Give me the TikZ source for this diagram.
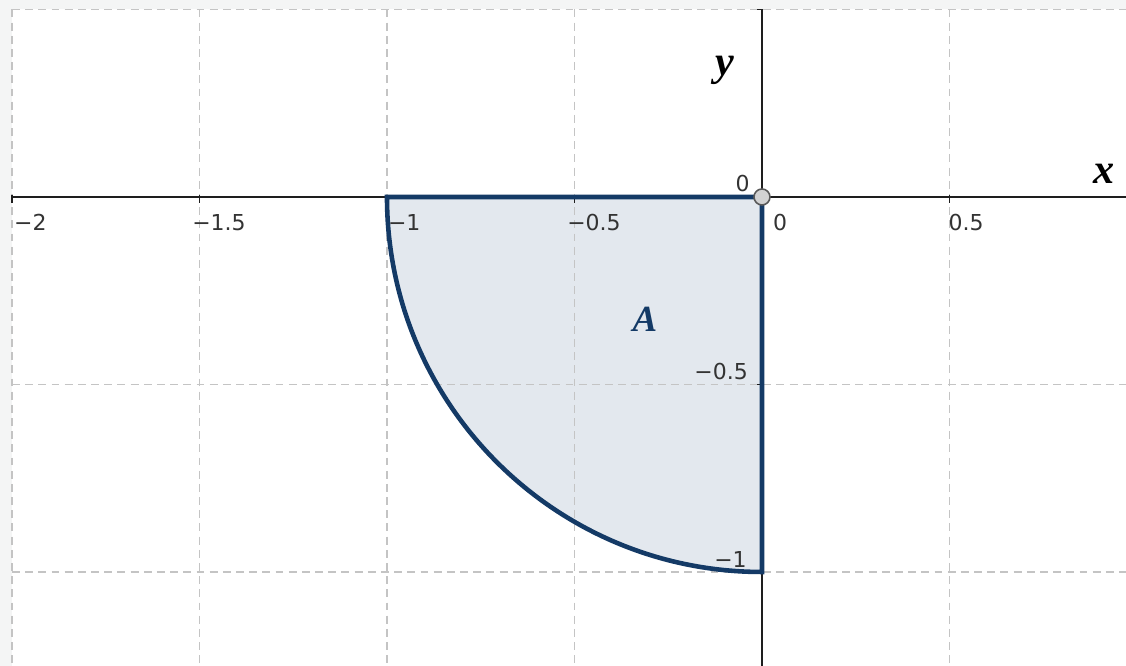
\documentclass[tikz,border=0pt]{standalone}
\usepackage{fontspec}
\setmainfont{Liberation Serif}
\setsansfont{DejaVu Sans}
\usepackage{tikz}
\definecolor{framegray}{HTML}{F4F5F5}
\definecolor{gridgray}{HTML}{C4C4C4}
\definecolor{regionfill}{HTML}{E3E8EE}
\definecolor{regionblue}{HTML}{143A66}
\definecolor{pointgray}{HTML}{D2D2D2}
\definecolor{axisblack}{HTML}{1E1E1E}
\tikzset{
  gridline/.style={draw=gridgray, line width=0.7pt, dash pattern=on 4.5pt off 3pt},
  axis/.style={draw=axisblack, line width=1.1pt},
  tickmark/.style={draw=axisblack, line width=1.1pt},
  region/.style={draw=regionblue, line width=2.6pt, line join=miter},
  originpt/.style={circle, draw=black!65, fill=pointgray, line width=0.9pt,
    minimum size=0.32cm, inner sep=0pt},
  ticklabel/.style={font=\sffamily\fontsize{12.5}{14}\selectfont, text=black!80, inner sep=0pt},
  axislabel/.style={font=\bfseries\itshape\fontsize{24}{28}\selectfont, inner sep=0pt},
  regionlabel/.style={font=\bfseries\itshape\fontsize{21}{24}\selectfont, text=regionblue, inner sep=0pt}
}

\begin{document}
\begin{tikzpicture}[x=7.5cm,y=7.5cm]
  \path[use as bounding box, fill=framegray] (-2.032,-1.2507) rectangle (0.9707,0.5253);
  \fill[white] (-2,-1.2507) rectangle (0.9707,0.5);

  % quarter disc
  \fill[regionfill] (0,0) -- (-1,0) arc[start angle=180, end angle=270, radius=1] -- cycle;

  % grid
  \draw[gridline] (-2,0.5) -- (0.9707,0.5);
  \draw[gridline] (-2,-0.5) -- (0.9707,-0.5);
  \draw[gridline] (-2,-1) -- (0.9707,-1);
  \draw[gridline] (-2,0.5) -- (-2,-1.2507);
  \draw[gridline] (-1.5,0.5) -- (-1.5,-1.2507);
  \draw[gridline] (-1,0.5) -- (-1,-1.2507);
  \draw[gridline] (-0.5,0.5) -- (-0.5,-1.2507);
  \draw[gridline] (0.5,0.5) -- (0.5,-1.2507);

  % axes
  \draw[axis] (-2,0) -- (0.9707,0);
  \draw[axis] (0,0.5) -- (0,-1.2507);
  \draw[tickmark] (-2,0.004) -- (-2,-0.016);
  \draw[tickmark] (-1.5,0.004) -- (-1.5,-0.016);
  \draw[tickmark] (-0.5,0.004) -- (-0.5,-0.016);
  \draw[tickmark] (0.5,0.004) -- (0.5,-0.016);
  \draw[tickmark] (0,0.5) -- (-0.012,0.5);
  \draw[tickmark] (0,-0.5) -- (-0.012,-0.5);
  \draw[tickmark] (0,-1) -- (-0.012,-1);

  \draw[region] (0,0) -- (-1,0) arc[start angle=180, end angle=270, radius=1] -- cycle;

  \node[originpt] (O) at (0,0) {};

  \node[ticklabel, anchor=north west] (xm2) at (-1.995,-0.046) {−2};
  \node[ticklabel, anchor=north west] (xm15) at (-1.52,-0.046) {−1.5};
  \node[ticklabel, anchor=north west] (xm1) at (-0.998,-0.046) {−1};
  \node[ticklabel, anchor=north west] (xm05) at (-0.52,-0.046) {−0.5};
  \node[ticklabel, anchor=north west] (x0) at (0.029,-0.046) {0};
  \node[ticklabel, anchor=north west] (x05) at (0.497,-0.046) {0.5};
  \node[ticklabel, anchor=south east] (y0) at (-0.032,0.013) {0};
  \node[ticklabel, anchor=south east] (ym05) at (-0.037,-0.488) {−0.5};
  \node[ticklabel, anchor=south east] (ym1) at (-0.04,-0.989) {−1};

  \node[axislabel, anchor=base] (xlab) at (0.912,0.037) {x};
  \node[axislabel, anchor=base] (ylab) at (-0.099,0.323) {y};
  \node[regionlabel, anchor=base] (A) at (-0.312,-0.359) {A};
\end{tikzpicture}
\end{document}
